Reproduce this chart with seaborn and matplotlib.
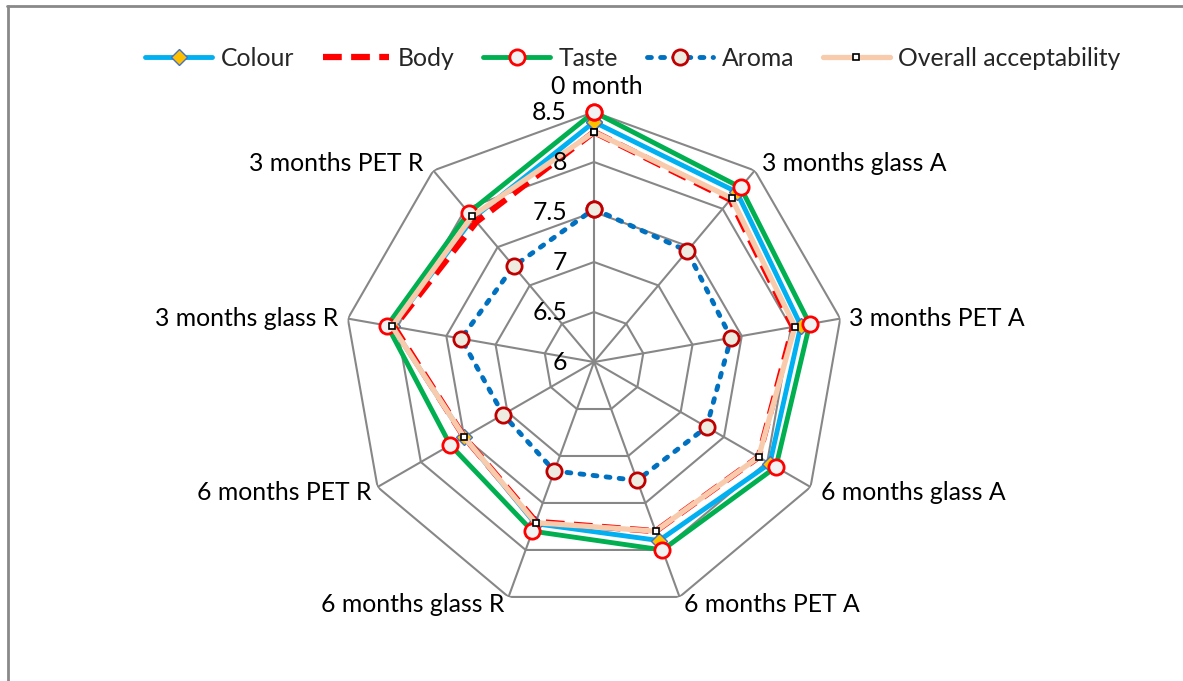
import numpy as np
import pandas as pd
import seaborn as sns
import matplotlib.pyplot as plt
from matplotlib.lines import Line2D

sns.set_theme(style='white')
plt.rcParams['font.family'] = ['Lato', 'DejaVu Sans']

categories = ['0 month', '3 months glass A', '3 months PET A', '6 months glass A',
              '6 months PET A', '6 months glass R', '6 months PET R',
              '3 months glass R', '3 months PET R']
colour = [8.40, 8.22, 8.10, 8.03, 7.90, 7.72, 7.50, 8.05, 7.88]
body = [8.30, 8.12, 8.02, 7.90, 7.80, 7.70, 7.50, 8.03, 7.83]
taste = [8.50, 8.28, 8.19, 8.10, 8.00, 7.80, 7.66, 8.10, 7.95]
aroma = [7.53, 7.45, 7.39, 7.30, 7.26, 7.16, 7.05, 7.35, 7.25]
overall = [8.30, 8.14, 8.04, 7.90, 7.80, 7.71, 7.50, 8.05, 7.90]
rings = [6, 6.5, 7, 7.5, 8, 8.5]

n = len(categories)
theta = np.linspace(0, 2 * np.pi, n, endpoint=False)
theta_c = np.append(theta, 2 * np.pi)

fig = plt.figure(figsize=(11.83, 6.81), dpi=100)
ax = fig.add_axes([0.2908, 0.1013, 0.4227, 0.7342], projection='polar')
ax.set_theta_zero_location('N')
ax.set_theta_direction(-1)
ax.set_ylim(6, 8.5)
ax.grid(False)
ax.spines['polar'].set_visible(False)
ax.set_xticks([])
ax.set_yticks([])
ax.patch.set_alpha(0)

# polygon grid like Excel radar
grid_col = '#878787'
for r in rings[1:]:
    ax.plot(theta_c, [r] * (n + 1), color=grid_col, lw=1.5, zorder=1)
for t in theta:
    ax.plot([t, t], [6, 8.5], color=grid_col, lw=1.5, zorder=1)

def closed(v):
    return pd.DataFrame({'theta': theta_c, 'value': list(v) + [v[0]]})

styles = [
    ('Colour', colour, dict(color='#00B0F0', lw=3.5, marker='D', markersize=8,
                            markerfacecolor='#FFC000', markeredgecolor='#4472C4',
                            markeredgewidth=1)),
    ('Body', body, dict(color='#FF0000', lw=4.5, linestyle=(0, (3, 1.5)), marker='')),
    ('Taste', taste, dict(color='#00B050', lw=3.5, marker='o', markersize=11,
                          markerfacecolor='#F2F2F2', markeredgecolor='#FF0000',
                          markeredgewidth=2)),
    ('Aroma', aroma, dict(color='#0070C0', lw=3.5, linestyle=(0, (0.8, 1.9)),
                          dash_capstyle='round', marker='o', markersize=11,
                          markerfacecolor='#EEECE1', markeredgecolor='#C00000',
                          markeredgewidth=2)),
    ('Overall acceptability', overall, dict(color='#F8CBAD', lw=3.8, marker='s',
                                            markersize=5, markerfacecolor='white',
                                            markeredgecolor='black',
                                            markeredgewidth=1.2)),
]

handles = []
for i, (name, vals, kw) in enumerate(styles):
    sns.lineplot(data=closed(vals), x='theta', y='value', ax=ax, sort=False,
                 errorbar=None, legend=False, zorder=3 + i, clip_on=False, **kw)
    handles.append(Line2D([], [], **kw))

ax.set_xlabel('')
ax.set_ylabel('')

fs = 17.8
for r in rings:
    ax.annotate('%g' % r, xy=(0, r), xytext=(-19.5, 0), textcoords='offset points',
                ha='right', va='center', fontsize=fs, color='black', zorder=10)

px = 72 / 100
offsets = [(3, 26, 'center'), (7, 7, 'left'), (9, 0, 'left'), (10, -5, 'left'),
           (4, -8, 'left'), (-4, -8, 'right'), (-6, -5, 'right'),
           (-10, 0, 'right'), (-10, 7, 'right')]
for t, lab, (dx, dy, ha) in zip(theta, categories, offsets):
    ax.annotate(lab, xy=(t, 8.5), xytext=(dx * px, dy * px),
                textcoords='offset points', ha=ha, va='center',
                fontsize=fs, color='black', annotation_clip=False)

fig.legend(handles, [s[0] for s in styles], loc='center', ncol=5,
           bbox_to_anchor=(0.535, 1 - 58 / 681), frameon=False, fontsize=fs,
           handlelength=2.7, handletextpad=0.35, columnspacing=1.15)

border = '#898989'
fig.add_artist(Line2D([7 / 1183, 1], [1 - 6 / 681] * 2, color=border, lw=2,
                      transform=fig.transFigure))
fig.add_artist(Line2D([8 / 1183] * 2, [0, 1 - 6 / 681], color=border, lw=2,
                      transform=fig.transFigure))

fig.savefig('out.png', dpi=100)
